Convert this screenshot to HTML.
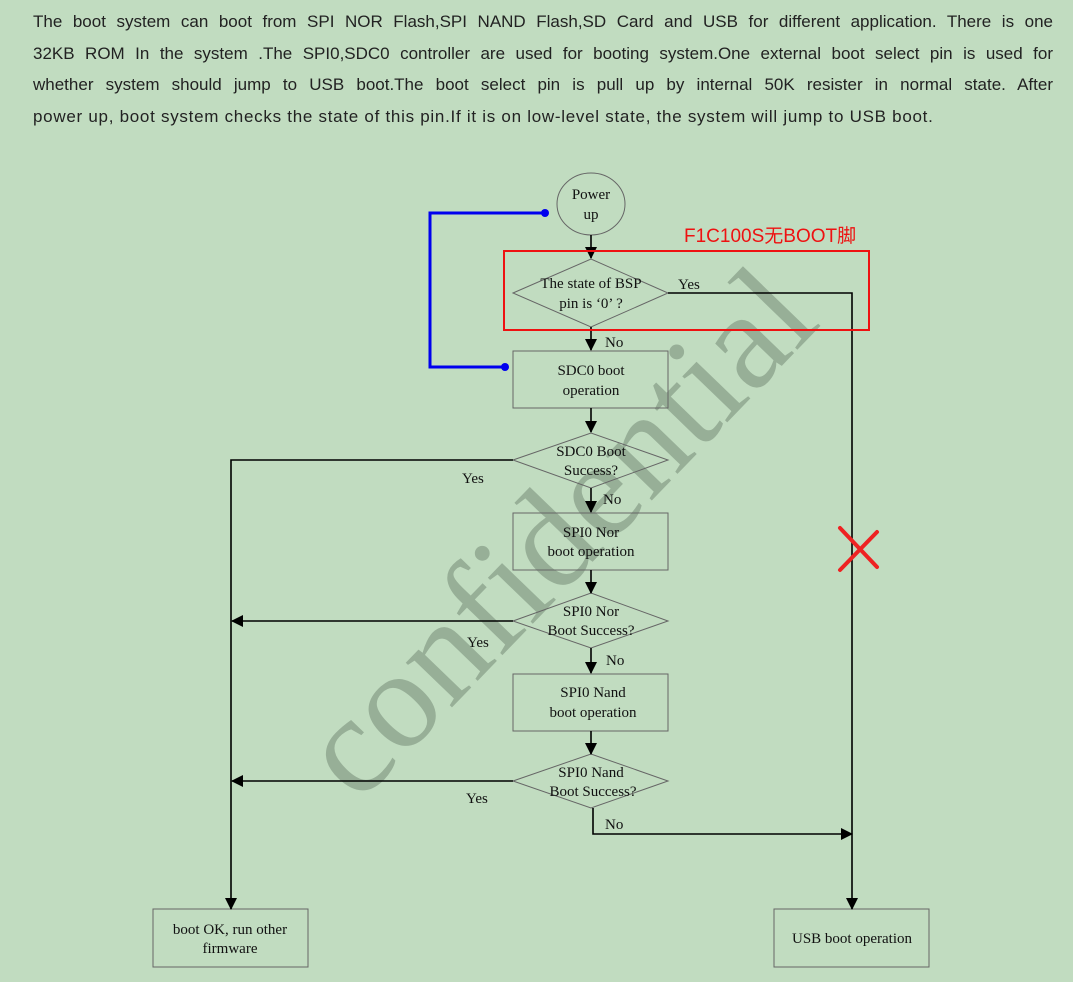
<!DOCTYPE html>
<html><head><meta charset="utf-8"><style>
html,body{margin:0;padding:0}
body{width:1073px;height:982px;background:#c1dcc0;position:relative;overflow:hidden}
#t{position:absolute;left:33px;top:6px;width:1020px;font-family:"Liberation Sans",sans-serif;font-size:17px;line-height:31.5px;color:#222}
#t div{white-space:nowrap;text-align:justify;text-align-last:justify}
#t div.l{text-align-last:left;letter-spacing:0.72px}
svg{position:absolute;left:0;top:0}
</style></head><body>
<div id="t">
<div>The boot system can boot from SPI NOR Flash,SPI NAND Flash,SD Card and USB for different application. There is one</div>
<div>32KB ROM In the system .The SPI0,SDC0 controller are used for booting system.One external boot select pin is used for</div>
<div>whether system should jump to USB boot.The boot select pin is pull up by internal 50K resister in normal state. After</div>
<div class="l">power up, boot system checks the state of this pin.If it is on low-level state, the system will jump to USB boot.</div>
</div>
<svg width="1073" height="982" viewBox="0 0 1073 982">
<defs><marker id="a" markerWidth="12" markerHeight="12" refX="11" refY="6" orient="auto" markerUnits="userSpaceOnUse"><path d="M0,0 L12,6 L0,12 z" fill="#000"/></marker></defs>
<text x="565" y="575" transform="rotate(-46 565 540)" text-anchor="middle" font-family="Liberation Serif,serif" font-size="140" fill="#97af97">confidential</text>
<g fill="none" stroke="#666" stroke-width="1">
<ellipse cx="591" cy="204" rx="34" ry="31"/>
<path d="M513,293 L591,259 L668,293 L591,327 Z"/>
<rect x="513" y="351" width="155" height="57"/>
<path d="M513,460 L591,433 L668,460 L591,488 Z"/>
<rect x="513" y="513" width="155" height="57"/>
<path d="M513,621 L591,593 L668,621 L591,648 Z"/>
<rect x="513" y="674" width="155" height="57"/>
<path d="M513,781 L591,754 L668,781 L591,808 Z"/>
<rect x="153" y="909" width="155" height="58"/>
<rect x="774" y="909" width="155" height="58"/>
</g>
<g stroke="#000" stroke-width="1.6" fill="none">
<line x1="591" y1="235" x2="591" y2="258" marker-end="url(#a)"/>
<line x1="591" y1="327" x2="591" y2="350" marker-end="url(#a)"/>
<line x1="591" y1="408" x2="591" y2="432" marker-end="url(#a)"/>
<line x1="591" y1="488" x2="591" y2="512" marker-end="url(#a)"/>
<line x1="591" y1="570" x2="591" y2="593" marker-end="url(#a)"/>
<line x1="591" y1="648" x2="591" y2="673" marker-end="url(#a)"/>
<line x1="591" y1="731" x2="591" y2="754" marker-end="url(#a)"/>
<polyline points="668,293 852,293 852,909" marker-end="url(#a)"/>
<polyline points="513,460 231,460 231,909" marker-end="url(#a)"/>
<line x1="513" y1="621" x2="232" y2="621" marker-end="url(#a)"/>
<line x1="513" y1="781" x2="232" y2="781" marker-end="url(#a)"/>
<polyline points="593,808 593,834 852,834" marker-end="url(#a)"/>
</g>
<polyline points="545,213 430,213 430,367 505,367" fill="none" stroke="#0000ee" stroke-width="3"/>
<circle cx="545" cy="213" r="4" fill="#0000ee"/><circle cx="505" cy="367" r="4" fill="#0000ee"/>
<rect x="504" y="251" width="365" height="79" fill="none" stroke="#ee1111" stroke-width="2"/>
<g stroke="#ee2222" stroke-width="4" stroke-linecap="round"><line x1="840" y1="528" x2="877" y2="567"/><line x1="877" y1="532" x2="840" y2="570"/></g>
<text x="684" y="242" font-family="Liberation Sans,'Noto Sans CJK SC',sans-serif" font-size="19" fill="#ee1111">F1C100S无BOOT脚</text>
<g font-family="Liberation Serif,serif" font-size="15" fill="#111" text-anchor="middle">
<text x="591" y="199">Power</text><text x="591" y="219">up</text>
<text x="591" y="288">The state of BSP</text><text x="591" y="308">pin is  ‘0’ ?</text>
<text x="591" y="375">SDC0 boot</text><text x="591" y="395">operation</text>
<text x="591" y="456">SDC0 Boot</text><text x="591" y="475">Success?</text>
<text x="591" y="537">SPI0  Nor</text><text x="591" y="556">boot operation</text>
<text x="591" y="616">SPI0 Nor</text><text x="591" y="635">Boot Success?</text>
<text x="593" y="697">SPI0 Nand</text><text x="593" y="717">boot operation</text>
<text x="591" y="777">SPI0 Nand</text><text x="593" y="796">Boot Success?</text>
<text x="230" y="934">boot OK, run other</text><text x="230" y="953">firmware</text>
<text x="852" y="943">USB boot operation</text>
</g>
<g font-family="Liberation Serif,serif" font-size="15" fill="#111">
<text x="678" y="289">Yes</text><text x="605" y="347">No</text>
<text x="462" y="483">Yes</text><text x="603" y="504">No</text>
<text x="467" y="647">Yes</text><text x="606" y="665">No</text>
<text x="466" y="803">Yes</text><text x="605" y="829">No</text>
</g>
</svg>
</body></html>
